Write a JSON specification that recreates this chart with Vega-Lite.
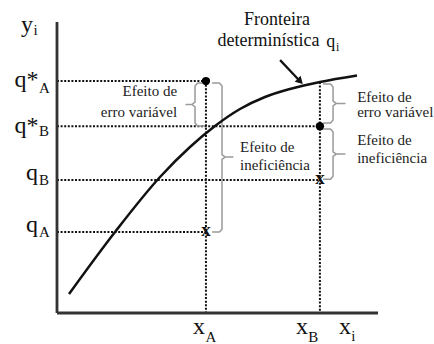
{
  "$schema": "https://vega.github.io/schema/vega-lite/v6.json",
  "width": 434,
  "height": 344,
  "autosize": "none",
  "padding": 0,
  "background": "white",
  "config": {"view": {"stroke": null}, "font": "Liberation Serif", "text": {"font": "Liberation Serif"}},
  "datasets": {
    "axes": [
      {"x": 0, "y": 0, "x2": 10, "y2": 0},
      {"x": 0, "y": 0, "x2": 0, "y2": 10}
    ],
    "guides": [
      {"x": 0, "y": 7.97, "x2": 4.64, "y2": 7.97},
      {"x": 0, "y": 6.42, "x2": 8.19, "y2": 6.42},
      {"x": 0, "y": 4.57, "x2": 8.19, "y2": 4.57},
      {"x": 0, "y": 2.78, "x2": 4.64, "y2": 2.78},
      {"x": 4.64, "y": 7.97, "x2": 4.64, "y2": 0},
      {"x": 8.19, "y": 7.94, "x2": 8.19, "y2": 0}
    ],
    "frontier": [
      {"x": 0.374, "y": 0.653},
      {"x": 1.807, "y": 2.784},
      {"x": 3.209, "y": 4.674},
      {"x": 4.143, "y": 5.704},
      {"x": 4.922, "y": 6.426},
      {"x": 5.701, "y": 7.01},
      {"x": 6.48, "y": 7.423},
      {"x": 7.259, "y": 7.698},
      {"x": 8.193, "y": 7.938},
      {"x": 9.346, "y": 8.162}
    ],
    "braces": [
      {"brace": "a", "i": 1, "x": 4.58, "y": 7.9},
      {"brace": "a", "i": 2, "x": 4.38, "y": 7.9},
      {"brace": "a", "i": 3, "x": 4.3, "y": 7.8},
      {"brace": "a", "i": 4, "x": 4.3, "y": 7.245},
      {"brace": "a", "i": 5, "x": 4.2, "y": 7.165},
      {"brace": "a", "i": 6, "x": 4.02, "y": 7.165},
      {"brace": "a", "i": 7, "x": 4.2, "y": 7.165},
      {"brace": "a", "i": 8, "x": 4.3, "y": 7.085},
      {"brace": "a", "i": 9, "x": 4.3, "y": 6.53},
      {"brace": "a", "i": 10, "x": 4.38, "y": 6.43},
      {"brace": "a", "i": 11, "x": 4.58, "y": 6.43},
      {"brace": "b", "i": 1, "x": 4.83, "y": 7.9},
      {"brace": "b", "i": 2, "x": 5.06, "y": 7.9},
      {"brace": "b", "i": 3, "x": 5.14, "y": 7.8},
      {"brace": "b", "i": 4, "x": 5.14, "y": 5.44},
      {"brace": "b", "i": 5, "x": 5.24, "y": 5.36},
      {"brace": "b", "i": 6, "x": 5.48, "y": 5.36},
      {"brace": "b", "i": 7, "x": 5.24, "y": 5.36},
      {"brace": "b", "i": 8, "x": 5.14, "y": 5.28},
      {"brace": "b", "i": 9, "x": 5.14, "y": 2.88},
      {"brace": "b", "i": 10, "x": 5.06, "y": 2.78},
      {"brace": "b", "i": 11, "x": 4.83, "y": 2.78},
      {"brace": "c", "i": 1, "x": 8.29, "y": 7.87},
      {"brace": "c", "i": 2, "x": 8.52, "y": 7.87},
      {"brace": "c", "i": 3, "x": 8.6, "y": 7.77},
      {"brace": "c", "i": 4, "x": 8.6, "y": 7.28},
      {"brace": "c", "i": 5, "x": 8.7, "y": 7.2},
      {"brace": "c", "i": 6, "x": 8.97, "y": 7.2},
      {"brace": "c", "i": 7, "x": 8.7, "y": 7.2},
      {"brace": "c", "i": 8, "x": 8.6, "y": 7.12},
      {"brace": "c", "i": 9, "x": 8.6, "y": 6.63},
      {"brace": "c", "i": 10, "x": 8.52, "y": 6.53},
      {"brace": "c", "i": 11, "x": 8.29, "y": 6.53},
      {"brace": "d", "i": 1, "x": 8.29, "y": 6.32},
      {"brace": "d", "i": 2, "x": 8.52, "y": 6.32},
      {"brace": "d", "i": 3, "x": 8.6, "y": 6.22},
      {"brace": "d", "i": 4, "x": 8.6, "y": 5.54},
      {"brace": "d", "i": 5, "x": 8.7, "y": 5.46},
      {"brace": "d", "i": 6, "x": 8.97, "y": 5.46},
      {"brace": "d", "i": 7, "x": 8.7, "y": 5.46},
      {"brace": "d", "i": 8, "x": 8.6, "y": 5.38},
      {"brace": "d", "i": 9, "x": 8.6, "y": 4.7},
      {"brace": "d", "i": 10, "x": 8.52, "y": 4.6},
      {"brace": "d", "i": 11, "x": 8.29, "y": 4.6}
    ],
    "arrow": [{"x": 6.95, "y": 8.69, "x2": 7.55, "y2": 7.99}],
    "arrowhead": [{"x": 7.55, "y": 7.99}],
    "observed": [
      {"point": "A", "x": 4.64, "y": 7.97},
      {"point": "B", "x": 8.19, "y": 6.42}
    ],
    "produced": [
      {"point": "A", "x": 4.64, "y": 2.78},
      {"point": "B", "x": 8.19, "y": 4.57}
    ],
    "notesLeft": [
      {"x": 3.74, "y": 7.63, "text": "Efeito de"},
      {"x": 3.74, "y": 6.91, "text": "erro variável"}
    ],
    "notesRight": [
      {"x": 5.7, "y": 5.7, "text": "Efeito de"},
      {"x": 5.7, "y": 5.09, "text": "ineficiência"},
      {"x": 9.35, "y": 7.42, "text": "Efeito de"},
      {"x": 9.35, "y": 6.91, "text": "erro variável"},
      {"x": 9.35, "y": 5.95, "text": "Efeito de"},
      {"x": 9.35, "y": 5.33, "text": "ineficiência"}
    ],
    "title": [
      {"x": 6.85, "y": 9.91, "text": "Fronteira"},
      {"x": 6.59, "y": 9.16, "text": "determinística"}
    ],
    "titleSymbol": [{"x": 8.67, "y": 9.14, "text": "q"}],
    "titleSub": [{"x": 8.69, "y": 9.0, "text": "i"}],
    "symbols": [
      {"x": -0.75, "y": 9.66, "text": "y"},
      {"x": -0.576, "y": 7.77, "text": "q*"},
      {"x": -0.576, "y": 6.19, "text": "q*"},
      {"x": -0.59, "y": 4.57, "text": "q"},
      {"x": -0.59, "y": 2.78, "text": "q"},
      {"x": 4.61, "y": -0.72, "text": "x"},
      {"x": 7.82, "y": -0.72, "text": "x"},
      {"x": 9.16, "y": -0.72, "text": "x"}
    ],
    "subscripts": [
      {"x": -0.73, "y": 9.55, "text": "i"},
      {"x": -0.56, "y": 7.56, "text": "A"},
      {"x": -0.56, "y": 6.08, "text": "B"},
      {"x": -0.56, "y": 4.4, "text": "B"},
      {"x": -0.56, "y": 2.61, "text": "A"},
      {"x": 4.63, "y": -1.0, "text": "A"},
      {"x": 7.83, "y": -1.0, "text": "B"},
      {"x": 9.17, "y": -0.96, "text": "i"}
    ]
  },
  "encoding": {
    "x": {"field": "x", "type": "quantitative", "axis": null,
          "scale": {"domain": [0, 10], "range": [57, 378], "zero": false, "nice": false}},
    "y": {"field": "y", "type": "quantitative", "axis": null,
          "scale": {"domain": [0, 10], "range": [313, 22], "zero": false, "nice": false}}
  },
  "layer": [
    {
      "data": {"name": "guides"},
      "mark": {"type": "rule", "color": "#111", "strokeWidth": 2, "strokeDash": [2, 1.6]},
      "encoding": {"x2": {"field": "x2"}, "y2": {"field": "y2"}}
    },
    {
      "data": {"name": "braces"},
      "mark": {"type": "line", "color": "#9a9a9a", "strokeWidth": 1.5, "strokeJoin": "round"},
      "encoding": {"detail": {"field": "brace"}, "order": {"field": "i", "type": "quantitative"}}
    },
    {
      "data": {"name": "frontier"},
      "mark": {"type": "line", "color": "#111", "strokeWidth": 2.5, "interpolate": "monotone"},
      "encoding": {}
    },
    {
      "data": {"name": "axes"},
      "mark": {"type": "rule", "color": "#333", "strokeWidth": 2.8},
      "encoding": {"x2": {"field": "x2"}, "y2": {"field": "y2"}}
    },
    {
      "data": {"name": "arrow"},
      "mark": {"type": "rule", "color": "#111", "strokeWidth": 2.2},
      "encoding": {"x2": {"field": "x2"}, "y2": {"field": "y2"}}
    },
    {
      "data": {"name": "arrowhead"},
      "mark": {"type": "point", "shape": "triangle", "angle": 135, "size": 70, "filled": true, "color": "#111", "opacity": 1}
    },
    {
      "data": {"name": "observed"},
      "mark": {"type": "point", "shape": "circle", "size": 70, "filled": true, "color": "#000", "opacity": 1}
    },
    {
      "data": {"name": "produced"},
      "mark": {"type": "text", "text": "x", "font": "Liberation Serif", "fontSize": 19, "fontWeight": "bold", "baseline": "middle", "align": "center", "dy": -2, "color": "#111"}
    },
    {
      "data": {"name": "notesLeft"},
      "mark": {"type": "text", "font": "Liberation Serif", "fontSize": 15, "align": "right", "baseline": "middle", "color": "#222"},
      "encoding": {"text": {"field": "text"}}
    },
    {
      "data": {"name": "notesRight"},
      "mark": {"type": "text", "font": "Liberation Serif", "fontSize": 15, "align": "left", "baseline": "middle", "color": "#222"},
      "encoding": {"text": {"field": "text"}}
    },
    {
      "data": {"name": "title"},
      "mark": {"type": "text", "font": "Liberation Serif", "fontSize": 18, "align": "center", "baseline": "alphabetic", "color": "#111"},
      "encoding": {"text": {"field": "text"}}
    },
    {
      "data": {"name": "titleSymbol"},
      "mark": {"type": "text", "font": "Liberation Serif", "fontSize": 18, "align": "right", "baseline": "alphabetic", "color": "#111"},
      "encoding": {"text": {"field": "text"}}
    },
    {
      "data": {"name": "titleSub"},
      "mark": {"type": "text", "font": "Liberation Serif", "fontSize": 12, "align": "left", "baseline": "alphabetic", "color": "#111"},
      "encoding": {"text": {"field": "text"}}
    },
    {
      "data": {"name": "symbols"},
      "mark": {"type": "text", "font": "Liberation Serif", "fontSize": 24, "align": "right", "baseline": "alphabetic", "color": "#111"},
      "encoding": {"text": {"field": "text"}}
    },
    {
      "data": {"name": "subscripts"},
      "mark": {"type": "text", "font": "Liberation Serif", "fontSize": 15, "align": "left", "baseline": "alphabetic", "color": "#111"},
      "encoding": {"text": {"field": "text"}}
    }
  ]
}
